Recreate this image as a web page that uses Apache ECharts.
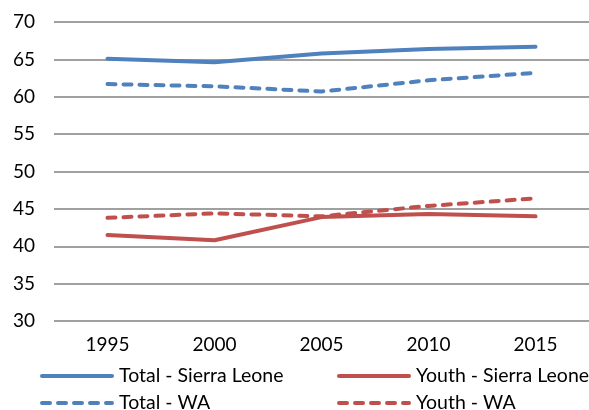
<!DOCTYPE html>
<html>
<head>
<meta charset="utf-8">
<script src="https://cdn.jsdelivr.net/npm/echarts@6/dist/echarts.min.js"></script>
<style>
  html, body { margin: 0; padding: 0; background: #fff; }
  #chart { width: 589px; height: 410px; }
</style>
</head>
<body>
<div id="chart"></div>
<script>
// Years on the category axis
const years = ['1995', '2000', '2005', '2010', '2015'];

// Participation rates (%)
const totalSierraLeone = [65.1, 64.6, 65.8, 66.4, 66.7];
const youthSierraLeone = [41.5, 40.8, 43.9, 44.3, 44.0];
const totalWA = [61.7, 61.4, 60.7, 62.2, 63.2];
const youthWA = [43.8, 44.4, 44.0, 45.4, 46.4];

const yTicks = { min: 30, max: 70, step: 5 };

const BLUE = '#4F81BD';
const RED = '#C0504D';
const FONT = 'Lato';
const DASH = [8, 8];

function lineSeries(name, data, color, dashed) {
  return {
    name: name,
    type: 'line',
    data: data,
    symbol: 'none',
    smooth: false,
    lineStyle: {
      color: color,
      width: 4,
      type: dashed ? DASH : 'solid',
      cap: 'round',
      join: 'round'
    },
    itemStyle: { color: color }
  };
}

// One legend block per entry so the 2x2 layout is exact
function legendItem(name, left, top) {
  return {
    data: [name],
    left: left,
    top: top,
    padding: 0,
    itemWidth: 70,
    itemHeight: 14,
    itemGap: 0,
    itemStyle: { opacity: 0 },
    lineStyle: { width: 4, cap: 'round' },
    textStyle: { fontFamily: FONT, fontSize: 19.5, color: '#000', padding: [0, 0, 0, 2] }
  };
}

const chart = echarts.init(document.getElementById('chart'), null, { renderer: 'canvas' });
chart.setOption({
  animation: false,
  backgroundColor: '#fff',
  grid: { left: 54, right: 0, top: 22, bottom: 89, containLabel: false },
  xAxis: {
    type: 'category',
    data: years,
    boundaryGap: true,
    axisLine: { show: false },
    axisTick: { show: false },
    axisLabel: { fontFamily: FONT, fontSize: 19, color: '#000', margin: 14 }
  },
  yAxis: {
    type: 'value',
    min: yTicks.min,
    max: yTicks.max,
    interval: yTicks.step,
    axisLine: { show: false },
    axisTick: { show: false },
    axisLabel: { fontFamily: FONT, fontSize: 19, color: '#000', margin: 19 },
    splitLine: { lineStyle: { color: '#a0a0a0', width: 2 } }
  },
  legend: [
    legendItem('Total - Sierra Leone', 40, 366),
    legendItem('Total - WA', 40, 393),
    legendItem('Youth - Sierra Leone', 337, 366),
    legendItem('Youth - WA', 337, 393)
  ],
  series: [
    lineSeries('Total - Sierra Leone', totalSierraLeone, BLUE, false),
    lineSeries('Youth - Sierra Leone', youthSierraLeone, RED, false),
    lineSeries('Total - WA', totalWA, BLUE, true),
    lineSeries('Youth - WA', youthWA, RED, true)
  ]
});
</script>
</body>
</html>
